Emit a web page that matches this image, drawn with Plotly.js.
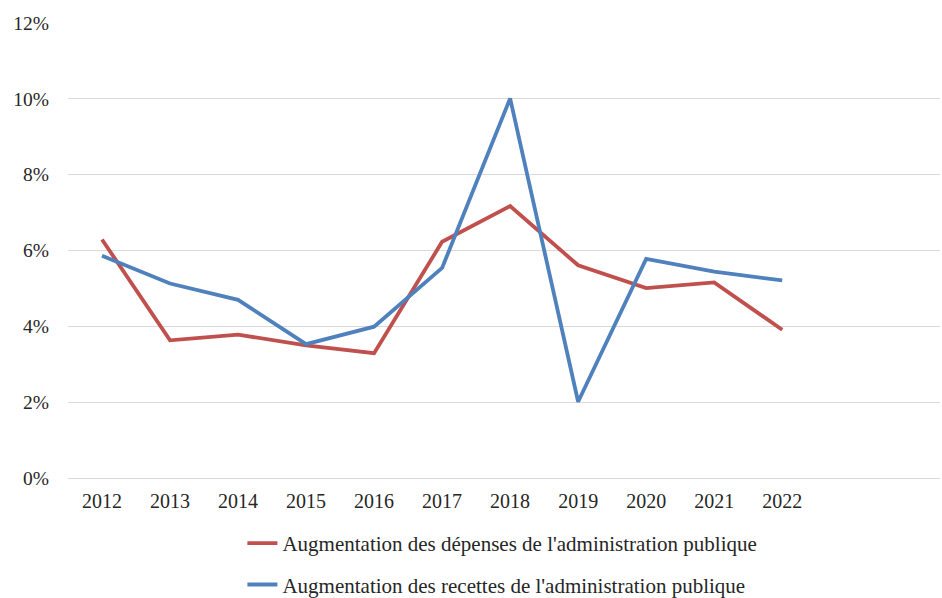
<!DOCTYPE html>
<html>
<head>
<meta charset="utf-8">
<script src="https://cdn.plot.ly/plotly-3.0.1.min.js"></script>
<style>html,body{margin:0;padding:0;background:#fff;}#chart{width:942px;height:598px;}</style>
</head>
<body>
<div id="chart"></div>
<script>
const years = ["2012","2013","2014","2015","2016","2017","2018","2019","2020","2021","2022"];
const depenses = [6.29, 3.63, 3.78, 3.50, 3.29, 6.23, 7.17, 5.61, 5.01, 5.16, 3.91];
const recettes = [5.86, 5.13, 4.70, 3.53, 3.99, 5.54, 10.01, 2.01, 5.78, 5.44, 5.21];
const nameDep = "Augmentation des dépenses de l'administration publique";
const nameRec = "Augmentation des recettes de l'administration publique";
const yTicks = [0, 2, 4, 6, 8, 10, 12];
const yTickText = ["0%", "2%", "4%", "6%", "8%", "10%", "12%"];

const font = "Liberation Serif, Times New Roman, serif";

const traces = [
  {x: years, y: depenses, name: nameDep, type: "scatter", mode: "lines",
   line: {color: "#c0504d", width: 3.8}, legendgroup: "a"},
  {x: years, y: recettes, name: nameRec, type: "scatter", mode: "lines",
   line: {color: "#4f81bd", width: 3.8}, legendgroup: "b"}
];

const layout = {
  width: 942, height: 598,
  margin: {l: 68, r: 2, t: 23, b: 120, autoexpand: false},
  paper_bgcolor: "#fff", plot_bgcolor: "#fff",
  font: {family: font, size: 18, color: "#262626"},
  showlegend: true,
  legend: {orientation: "v", x: 0.2, xanchor: "left", y: -0.099, yanchor: "top",
           tracegroupgap: 11, font: {family: font, size: 21, color: "#262626"}, bgcolor: "rgba(0,0,0,0)"},
  xaxis: {type: "category", range: [-0.5, 12.32], showgrid: false, zeroline: false,
          showline: false, ticks: "", tickfont: {family: font, size: 20, color: "#262626"},
          ticklabelstandoff: 9, fixedrange: true},
  yaxis: {range: [0, 12], tickvals: yTicks, ticktext: yTickText, showgrid: true,
          gridcolor: "#d9d9d9", gridwidth: 1, zeroline: true, zerolinecolor: "#d9d9d9",
          showline: false, ticks: "", tickfont: {family: font, size: 19.5, color: "#262626"},
          ticklabelstandoff: 18, fixedrange: true}
};

Plotly.newPlot("chart", traces, layout, {displayModeBar: false, staticPlot: true});
</script>
</body>
</html>
